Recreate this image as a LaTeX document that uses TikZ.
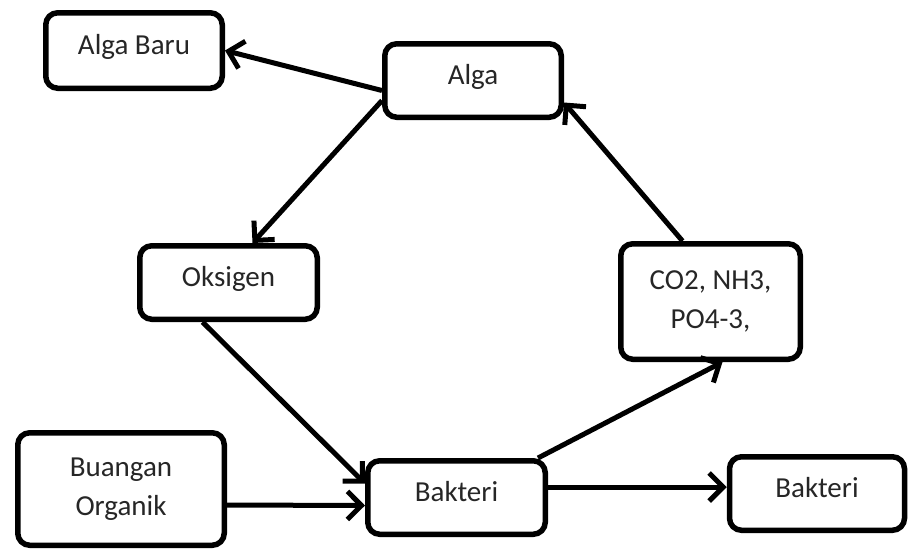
\documentclass[tikz,border=0pt]{standalone}
\usepackage{fontspec}
\setmainfont{Carlito}
\usetikzlibrary{arrows.meta}
\tikzset{
  box/.style={draw=black, line width=5.5pt, rounded corners=12pt, inner sep=0pt,
    text=black!85, font=\fontsize{29}{39}\selectfont, align=center},
  oneline/.style={text height=20pt, text depth=13pt},
  arr/.style={line width=5pt, -{Straight Barb[length=14pt,width=28pt]}}
}
\begin{document}
\begin{tikzpicture}[x=1pt,y=-1pt]
\useasboundingbox (0,0) rectangle (908,550);

\node[box,oneline,minimum width=176.5pt,minimum height=75.5pt] (algabaru) at (134,50.5) {Alga Baru};
\node[box,oneline,minimum width=176.5pt,minimum height=73.5pt] (alga) at (473,80.5) {Alga};
\node[box,oneline,minimum width=177.5pt,minimum height=73.5pt] (oksigen) at (228.5,282.5) {Oksigen};
\node[box,minimum width=179.5pt,minimum height=115.5pt] (co2) at (710.5,301.5) {CO2, NH3,\\PO4-3,};
\node[box,minimum width=206.5pt,minimum height=112.5pt] (buangan) at (121,489) {Buangan\\Organik};
\node[box,oneline,minimum width=177.5pt,minimum height=73.5pt] (bakteri) at (456.5,497.5) {Bakteri};
\node[box,oneline,minimum width=175pt,minimum height=73.5pt] (bakteri2) at (817,493.5) {Bakteri};

% alga
\draw[arr] ([yshift=-10pt]alga.west) -- (algabaru.east);
\draw[arr] ([yshift=-20pt]alga.west) -- ([xshift=24pt]oksigen.north);

% bakteri
\draw[arr] ([xshift=-26pt]oksigen.south) -- ([yshift=14pt]bakteri.west);
\draw[arr] ([yshift=-16pt]buangan.east) -- ([yshift=-8pt]bakteri.west);
\draw[arr] ([yshift=10.5pt]bakteri.east) -- ([yshift=6.5pt]bakteri2.west);

% kembali ke alga
\draw[arr] ([xshift=-10pt]bakteri.north east) -- ([xshift=12pt]co2.south);
\draw[arr] ([xshift=-28pt]co2.north) -- ([yshift=-22pt]alga.east);
\end{tikzpicture}
\end{document}
